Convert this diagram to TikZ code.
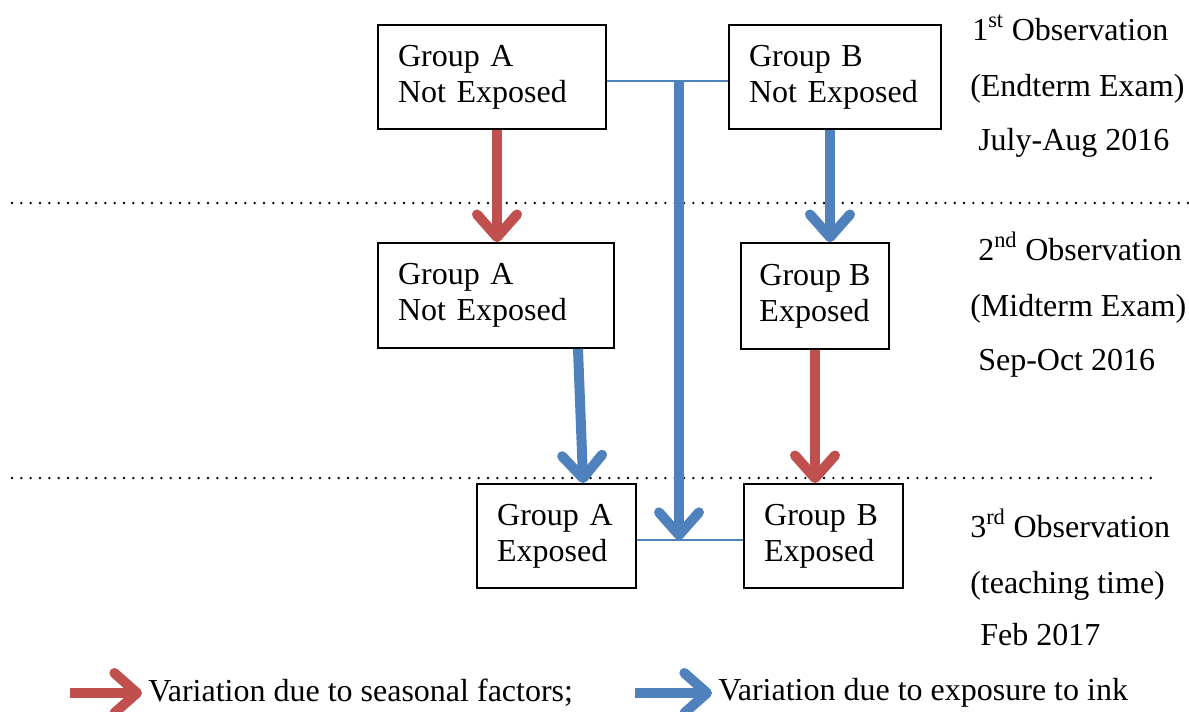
\documentclass[tikz,border=0pt]{standalone}
\usepackage{fontspec}
\setmainfont{Liberation Serif}
\usetikzlibrary{arrows.meta}
\usetikzlibrary{calc}
\definecolor{redarr}{HTML}{C0504D}
\definecolor{bluearr}{HTML}{4F81BD}

\begin{document}
\begin{tikzpicture}[x=0.75pt,y=-0.75pt]
    \tikzstyle{every node}=[font=\fontsize{24}{27}\selectfont]
    \tikzstyle{box}=[draw=black,line width=1.3pt,align=left,inner xsep=15pt,inner ysep=0pt,minimum height=78pt]
    \tikzstyle{seasonal}=[draw=redarr,line width=7.5pt,-{Straight Barb[round,length=17pt,width=30pt]}]
    \tikzstyle{exposure}=[draw=bluearr,line width=7.5pt,-{Straight Barb[round,length=17pt,width=30pt]}]
    \tikzstyle{link}=[draw=bluearr,line width=1.2pt]
    \tikzstyle{sep}=[line width=2pt,line cap=round,dash pattern=on 0pt off 7pt]
    \tikzstyle{obs}=[anchor=base west,inner sep=0pt]
    \tikzstyle{legend}=[anchor=west,inner xsep=4.5pt,inner ysep=0pt]

    \useasboundingbox (0,0) rectangle (1189,711);

    % groups, one row per observation
    \node[box,text width=141pt] (a1) at (492,77) {Group A\\Not Exposed};
    \node[box,text width=129pt] (b1) at (835,77) {Group B\\Not Exposed};
    \node[box,text width=147pt,minimum height=78.75pt] (a2) at (496,295.5) {Group A\\Not Exposed};
    \node[box,inner xsep=11pt,minimum width=111pt,minimum height=79.5pt] (b2) at (815,296) {Group B\\Exposed};
    \node[box,text width=89pt] (a3) at (556.5,536) {Group A\\Exposed};
    \node[box,text width=89pt] (b3) at (823.5,536) {Group B\\Exposed};

    % observation labels
    \node[obs] (o1a) at (972,40) {1\textsuperscript{st} Observation};
    \node[obs] (o1b) at (970,96) {(Endterm Exam)};
    \node[obs] (o1c) at (978,150) {July-Aug 2016};
    \node[obs] (o2a) at (978,260) {2\textsuperscript{nd} Observation};
    \node[obs] (o2b) at (970,316) {(Midterm Exam)};
    \node[obs] (o2c) at (978,370) {Sep-Oct 2016};
    \node[obs] (o3a) at (970,537) {3\textsuperscript{rd} Observation};
    \node[obs] (o3b) at (970,593) {(teaching time)};
    \node[obs] (o3c) at (980,645) {Feb 2017};

    \draw[sep] (12,203) -- (1189,203);
    \draw[sep] (12,478) -- (1160,478);

    \draw[seasonal] ([xshift=3.75pt]a1.south) -- ([xshift=3.75pt]a1.south |- a2.north);
    \draw[exposure] ([xshift=-3.75pt]b1.south) -- ([xshift=-3.75pt]b1.south |- b2.north);
    \draw[exposure] ([xshift=61.5pt]a2.south) -- ([xshift=20pt]a3.north);
    \draw[seasonal] (b2.south) -- (b2.south |- b3.north);

    \coordinate (upper) at (679,81);
    \coordinate (lower) at (679,540);
    \draw[link] (a1.east |- upper) -- (b1.west |- upper);
    \draw[link] (a3.east |- lower) -- (b3.west |- lower);
    \draw[exposure] (upper) -- (lower);

    % legend
    \coordinate (seasfrom) at (70,693);
    \coordinate (expofrom) at (635,693);
    \node[legend] (seastext) at (142,693) {Variation due to seasonal factors;};
    \node[legend] (expotext) at (712,693) {Variation due to exposure to ink};
    \draw[seasonal] (seasfrom) -- (seastext.west);
    \draw[exposure] (expofrom) -- (expotext.west);

\end{tikzpicture}
\end{document}
